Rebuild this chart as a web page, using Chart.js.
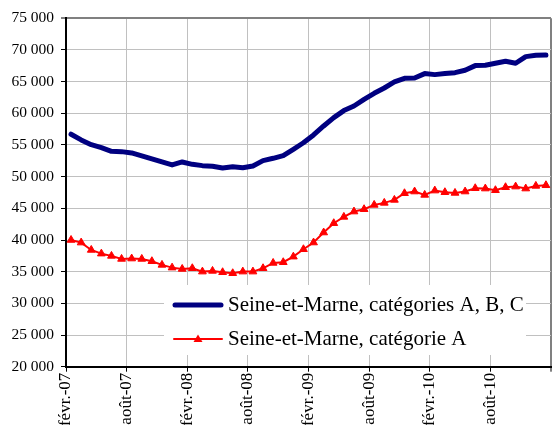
<!DOCTYPE html>
<html><head><meta charset="utf-8">
<script src="https://cdn.jsdelivr.net/npm/chart.js@4/dist/chart.umd.min.js"></script>
<style>html,body{margin:0;padding:0;background:#fff;overflow:hidden}#wrap{position:relative;width:552px;height:425px}</style>
</head><body><div id="wrap"><canvas id="c" width="552" height="425"></canvas></div>
<script>
const months = [
  'févr.-07','mars-07','avr.-07','mai-07','juin-07','juil.-07','août-07','sept.-07','oct.-07','nov.-07','déc.-07','janv.-08',
  'févr.-08','mars-08','avr.-08','mai-08','juin-08','juil.-08','août-08','sept.-08','oct.-08','nov.-08','déc.-08','janv.-09',
  'févr.-09','mars-09','avr.-09','mai-09','juin-09','juil.-09','août-09','sept.-09','oct.-09','nov.-09','déc.-09','janv.-10',
  'févr.-10','mars-10','avr.-10','mai-10','juin-10','juil.-10','août-10','sept.-10','oct.-10','nov.-10','déc.-10','janv.-11'
];
const tickLabels = ['févr.-07','août-07','févr.-08','août-08','févr.-09','août-09','févr.-10','août-10'];
const seriesNames = ['Seine-et-Marne, catégories A, B, C', 'Seine-et-Marne, catégorie A'];
const seriesABC = [
  56700, 55800, 55050, 54580, 54000, 53950, 53740, 53270, 52800, 52320, 51850, 52320,
  51950, 51740, 51640, 51370, 51580, 51420, 51690, 52530, 52900, 53320, 54320, 55350,
  56590, 58000, 59320, 60430, 61160, 62210, 63160, 64000, 64950, 65530, 65580, 66270,
  66110, 66270, 66420, 66790, 67530, 67580, 67900, 68210, 67900, 68950, 69160, 69210
];
const seriesA = [
  40000, 39590, 38430, 37850, 37490, 37010, 37070, 37010, 36650, 36070, 35640, 35430,
  35540, 35010, 35120, 34910, 34750, 35010, 35010, 35540, 36380, 36490, 37370, 38540,
  39600, 41180, 42650, 43650, 44490, 44860, 45540, 45860, 46330, 47380, 47650, 47120,
  47800, 47540, 47430, 47650, 48170, 48120, 47860, 48330, 48430, 48120, 48540, 48640
];

const NAVY = '#000080', RED = '#ff0000';
const FONT = 'Liberation Serif';

function swatch(kind) {
  const c = document.createElement('canvas');
  c.width = 52; c.height = 14;
  const g = c.getContext('2d');
  g.lineCap = 'round';
  if (kind === 0) {
    g.strokeStyle = NAVY; g.lineWidth = 5;
    g.beginPath(); g.moveTo(3, 7); g.lineTo(49, 7); g.stroke();
  } else {
    g.strokeStyle = RED; g.lineWidth = 2;
    g.beginPath(); g.moveTo(2, 7); g.lineTo(50, 7); g.stroke();
    g.fillStyle = RED;
    g.beginPath(); g.moveTo(26, 2.5); g.lineTo(30.5, 10); g.lineTo(21.5, 10); g.closePath(); g.fill();
  }
  return c;
}
const swatches = [swatch(0), swatch(1)];

const LEGEND_BOX = {x: 164, y: 285, w: 362, h: 70};
const legendPlacer = {
  id: 'legendPlacer',
  beforeDraw(chart) {
    const lg = chart.legend;
    lg.left = 165.5; lg.top = 281.5;
    lg.right = LEGEND_BOX.x + LEGEND_BOX.w;
    lg.bottom = lg.top + 100;
    lg.width = lg.right - lg.left; lg.height = lg.bottom - lg.top;
    if (!lg._boxWrapped) {
      const orig = lg.draw;
      lg.draw = function(area) {
        const ctx = this.ctx;
        ctx.save(); ctx.fillStyle = '#fff';
        ctx.fillRect(LEGEND_BOX.x, LEGEND_BOX.y, LEGEND_BOX.w, LEGEND_BOX.h);
        ctx.restore();
        orig.call(this, area);
      };
      lg._boxWrapped = true;
    }
  }
};

const fmt = v => String(v).replace(/\B(?=(\d{3})+(?!\d))/g, ' ');

new Chart(document.getElementById('c'), {
  type: 'line',
  data: {
    datasets: [
      {
        label: seriesNames[0],
        data: seriesABC.map((v, i) => ({x: i + 0.5, y: v, m: months[i]})),
        borderColor: NAVY, backgroundColor: NAVY, borderWidth: 5,
        pointRadius: 0, tension: 0, borderJoinStyle: 'round', borderCapStyle: 'round'
      },
      {
        label: seriesNames[1],
        data: seriesA.map((v, i) => ({x: i + 0.5, y: v, m: months[i]})),
        borderColor: RED, backgroundColor: RED, borderWidth: 2,
        pointStyle: 'triangle', pointRadius: 4.5, pointBorderWidth: 1,
        pointBackgroundColor: RED, pointBorderColor: RED, tension: 0
      }
    ]
  },
  options: {
    responsive: false, animation: false, devicePixelRatio: 1,
    layout: {autoPadding: false, padding: {top: 18.3, right: 1, left: 0, bottom: 0}},
    plugins: {
      tooltip: {enabled: false},
      legend: {
        position: 'chartArea', align: 'start',
        labels: {
          usePointStyle: true, pointStyleWidth: 39, padding: 13, color: '#000',
          font: {family: FONT, size: 21},
          generateLabels(chart) {
            const items = Chart.defaults.plugins.legend.labels.generateLabels(chart);
            items.forEach((it, i) => { it.pointStyle = swatches[i]; it.fontColor = '#000'; });
            return items;
          }
        }
      }
    },
    scales: {
      x: {
        type: 'linear', min: 0, max: 48,
        afterFit: s => { s.height = 58.3; s.paddingLeft = 0; s.paddingRight = 0; },
        ticks: {
          stepSize: 6, autoSkip: false, maxRotation: 90, minRotation: 90, padding: 1,
          color: '#000', font: {family: FONT, size: 17},
          callback: v => tickLabels[v / 6] ?? ''
        },
        grid: {
          color: c => (c.tick && c.tick.value === 48) ? '#808080' : '#c0c0c0',
          lineWidth: c => (c.tick && c.tick.value === 48) ? 2 : 1,
          tickColor: '#000', tickWidth: 1, tickLength: 5
        },
        border: {color: '#000', width: 2}
      },
      y: {
        min: 20000, max: 75000,
        afterFit: s => { s.width = 66; },
        ticks: {
          stepSize: 5000, padding: 7, color: '#000',
          font: {family: FONT, size: 15.5},
          callback: v => fmt(v)
        },
        grid: {
          color: c => (c.tick && c.tick.value === 75000) ? '#808080' : '#c0c0c0',
          lineWidth: c => (c.tick && c.tick.value === 75000) ? 2 : 1,
          tickColor: '#000', tickWidth: 1, tickLength: 5
        },
        border: {color: '#000', width: 2}
      }
    }
  },
  plugins: [legendPlacer]
});
</script></body></html>
